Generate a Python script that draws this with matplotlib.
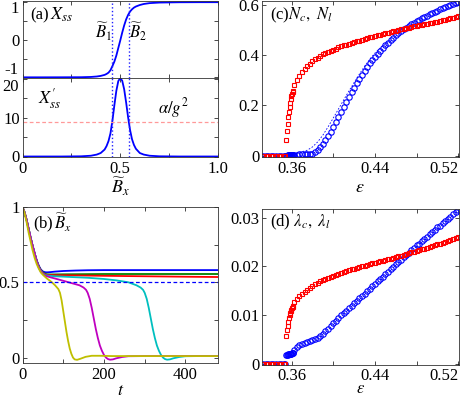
import numpy as np
import matplotlib
matplotlib.use("Agg")
import matplotlib.pyplot as plt

plt.rcParams["font.family"] = ["Liberation Serif", "DejaVu Serif"]
plt.rcParams["mathtext.fontset"] = "stix"
plt.rcParams["font.size"] = 12
plt.rcParams["axes.linewidth"] = 0.6
plt.rcParams["xtick.direction"] = "in"
plt.rcParams["ytick.direction"] = "in"
plt.rcParams["xtick.top"] = True
plt.rcParams["ytick.right"] = True
plt.rcParams["xtick.major.size"] = 3
plt.rcParams["ytick.major.size"] = 3
plt.rcParams["xtick.major.width"] = 0.5
plt.rcParams["ytick.major.width"] = 0.5

# ---- (a) steady state X_ss and its derivative ----
b_grid = [0.0, 0.1, 0.2, 0.3, 0.35, 0.38, 0.40, 0.42, 0.43, 0.44,
          0.45, 0.46, 0.47, 0.48, 0.49, 0.50, 0.51, 0.52, 0.53, 0.54,
          0.55, 0.56, 0.57, 0.58, 0.60, 0.62, 0.65, 0.70, 0.80, 0.90, 1.0]
x_ss = [-1.0, -1.0, -0.999, -0.997, -0.99, -0.978, -0.962, -0.935, -0.91, -0.875,
        -0.81, -0.70, -0.58, -0.42, -0.22, -0.02, 0.19, 0.38, 0.54, 0.66,
        0.75, 0.81, 0.855, 0.885, 0.925, 0.952, 0.975, 0.99, 0.998, 1.0, 1.0]
dx_ss = [0, 0, 0.0, 0.05, 0.2, 0.5, 0.9, 1.8, 2.7, 4.0,
         6.0, 9.3, 13.3, 17.0, 19.5, 20.3, 19.6, 17.4, 14.0, 10.2,
         6.9, 4.5, 3.0, 2.0, 0.9, 0.5, 0.2, 0.05, 0, 0, 0]
b1, b2 = 0.459, 0.543
alpha_g2 = 9.0

# ---- (b) time evolution of B_x ----
t_blue = [0, 5, 10, 15, 20, 25, 30, 35, 40, 45, 50, 55, 60, 70, 80, 100, 130, 160, 200, 300, 400, 480]
b_blue = [1.0, 0.965, 0.915, 0.855, 0.795, 0.74, 0.69, 0.645, 0.61, 0.585, 0.572, 0.567, 0.566,
          0.568, 0.571, 0.575, 0.578, 0.58, 0.581, 0.581, 0.581, 0.581]
t_green = [0, 5, 10, 15, 20, 25, 30, 35, 40, 45, 50, 55, 60, 70, 100, 150, 200, 300, 480]
b_green = [1.0, 0.965, 0.915, 0.855, 0.795, 0.74, 0.69, 0.642, 0.605, 0.58, 0.565, 0.557, 0.553,
           0.552, 0.553, 0.554, 0.555, 0.555, 0.555]
t_red = [0, 5, 10, 15, 20, 25, 30, 35, 40, 45, 50, 55, 60, 80, 120, 200, 300, 400, 480]
b_red = [1.0, 0.965, 0.915, 0.855, 0.795, 0.74, 0.69, 0.64, 0.603, 0.578, 0.562, 0.553, 0.549,
         0.547, 0.546, 0.543, 0.540, 0.537, 0.535]
t_cyan = [0, 5, 10, 15, 20, 25, 30, 35, 40, 45, 50, 55, 60, 80, 120, 160, 200, 230, 260, 280,
          290, 296, 300, 305, 310, 315, 320, 325, 330, 335, 340, 345, 350, 355, 362, 370, 385, 400, 430, 480]
b_cyan = [1.0, 0.965, 0.915, 0.855, 0.795, 0.74, 0.69, 0.638, 0.60, 0.575, 0.558, 0.549, 0.545,
          0.54, 0.535, 0.53, 0.522, 0.513, 0.50, 0.48, 0.465, 0.45, 0.43, 0.39, 0.33, 0.26, 0.19,
          0.13, 0.08, 0.045, 0.018, 0.0, -0.01, -0.014, -0.012, -0.005, 0.004, 0.009, 0.01, 0.01]
t_mag = [0, 5, 10, 15, 20, 25, 30, 35, 40, 45, 50, 55, 60, 70, 80, 100, 120, 140, 150, 156,
         160, 165, 170, 175, 180, 185, 190, 195, 200, 205, 210, 215, 222, 230, 245, 260, 300, 480]
b_mag = [1.0, 0.965, 0.915, 0.855, 0.795, 0.74, 0.69, 0.636, 0.598, 0.572, 0.555, 0.545, 0.54,
         0.532, 0.525, 0.51, 0.495, 0.48, 0.465, 0.45, 0.43, 0.39, 0.33, 0.26, 0.19, 0.13, 0.08,
         0.045, 0.018, 0.0, -0.01, -0.014, -0.012, -0.005, 0.004, 0.009, 0.01, 0.01]
t_yel = [0, 5, 10, 15, 20, 25, 30, 35, 40, 45, 50, 60, 70, 80, 88, 92, 96, 100, 104, 108,
         112, 116, 120, 124, 128, 134, 142, 155, 170, 190, 220, 480]
b_yel = [1.0, 0.96, 0.90, 0.83, 0.77, 0.71, 0.66, 0.62, 0.59, 0.565, 0.55, 0.525, 0.505, 0.48,
         0.455, 0.43, 0.38, 0.31, 0.24, 0.17, 0.11, 0.06, 0.025, 0.0, -0.012, -0.015, -0.008,
         0.005, 0.012, 0.012, 0.01, 0.01]

# ---- (c), (d) sweep over epsilon ----
eps_zero = [0.3325, 0.335, 0.3375, 0.34, 0.3425, 0.345, 0.3475, 0.35, 0.3525, 0.354]
eps_jump = [0.3550, 0.3556, 0.3562, 0.3568, 0.3574, 0.3580, 0.3586, 0.3592, 0.3598, 0.3604, 0.3610, 0.3616]
eps_main = [0.3625, 0.365, 0.3675, 0.37, 0.3725, 0.375, 0.3775, 0.38, 0.3825, 0.385,
            0.3875, 0.39, 0.3925, 0.395, 0.3975, 0.40, 0.4025, 0.405, 0.4075, 0.41,
            0.4125, 0.415, 0.4175, 0.42, 0.4225, 0.425, 0.4275, 0.43, 0.4325, 0.435,
            0.4375, 0.44, 0.4425, 0.445, 0.4475, 0.45, 0.4525, 0.455, 0.4575, 0.46,
            0.4625, 0.465, 0.4675, 0.47, 0.4725, 0.475, 0.4775, 0.48, 0.4825, 0.485,
            0.4875, 0.49, 0.4925, 0.495, 0.4975, 0.50, 0.5025, 0.505, 0.5075, 0.51,
            0.5125, 0.515, 0.5175, 0.52]
zeros_lo = [0, 0, 0, 0, 0, 0, 0, 0, 0, 0]

n_red_jump = [0.063, 0.100, 0.127, 0.153, 0.173, 0.193, 0.210, 0.225, 0.237, 0.246, 0.253, 0.258]
n_red_main = [0.283, 0.300, 0.317, 0.332, 0.345, 0.356, 0.366, 0.375, 0.383, 0.390,
              0.397, 0.403, 0.408, 0.413, 0.417, 0.422, 0.426, 0.431, 0.435, 0.439,
              0.442, 0.446, 0.449, 0.452, 0.455, 0.458, 0.461, 0.464, 0.467, 0.470,
              0.473, 0.475, 0.478, 0.481, 0.484, 0.486, 0.489, 0.492, 0.494, 0.497,
              0.499, 0.502, 0.504, 0.507, 0.509, 0.511, 0.514, 0.516, 0.518, 0.520,
              0.522, 0.524, 0.527, 0.529, 0.531, 0.533, 0.535, 0.538, 0.540, 0.543,
              0.546, 0.549, 0.552, 0.555]
n_blue_jump = [0.000, 0.000, 0.001, 0.001, 0.001, 0.001, 0.002, 0.002, 0.002, 0.002, 0.002, 0.003]
n_blue_main = [0.003, 0.004, 0.005, 0.005, 0.005, 0.005, 0.006, 0.008, 0.014, 0.022,
               0.033, 0.046, 0.061, 0.078, 0.096, 0.115, 0.135, 0.155, 0.175, 0.195,
               0.215, 0.234, 0.253, 0.271, 0.289, 0.306, 0.322, 0.338, 0.353, 0.367,
               0.381, 0.394, 0.406, 0.418, 0.429, 0.440, 0.450, 0.460, 0.469, 0.478,
               0.487, 0.495, 0.502, 0.509, 0.516, 0.523, 0.529, 0.535, 0.541, 0.546,
               0.552, 0.557, 0.562, 0.567, 0.572, 0.577, 0.582, 0.587, 0.592, 0.596,
               0.601, 0.605, 0.609, 0.613]
eps_dash = [0.355, 0.36, 0.365, 0.37, 0.375, 0.38, 0.385, 0.39, 0.395, 0.40, 0.405,
            0.41, 0.415, 0.42, 0.425, 0.43, 0.435, 0.44, 0.445, 0.45, 0.455]
n_dash = [0.0, 0.004, 0.010, 0.016, 0.022, 0.035, 0.055, 0.082, 0.115, 0.150, 0.186,
          0.222, 0.257, 0.291, 0.324, 0.355, 0.383, 0.408, 0.428, 0.445, 0.460]

lam_red_jump = [0.0056, 0.0068, 0.0078, 0.0086, 0.0093, 0.0099, 0.0104, 0.0108, 0.0111, 0.0114, 0.0116, 0.0118]
lam_red_main = [0.0126, 0.0133, 0.0138, 0.0143, 0.0148, 0.0152, 0.0156, 0.0160, 0.0163, 0.0166,
                0.0169, 0.0172, 0.0174, 0.0177, 0.0179, 0.0181, 0.0183, 0.0185, 0.0187, 0.0189,
                0.0190, 0.0192, 0.0194, 0.0195, 0.0197, 0.0198, 0.0200, 0.0201, 0.0203, 0.0204,
                0.0206, 0.0207, 0.0209, 0.0210, 0.0212, 0.0213, 0.0215, 0.0216, 0.0218, 0.0219,
                0.0221, 0.0222, 0.0224, 0.0226, 0.0227, 0.0229, 0.0230, 0.0232, 0.0233, 0.0235,
                0.0236, 0.0238, 0.0240, 0.0241, 0.0243, 0.0245, 0.0247, 0.0249, 0.0251, 0.0253,
                0.0255, 0.0257, 0.0259, 0.0261]
lam_blue_jump = [0.0017, 0.0018, 0.0018, 0.0019, 0.0019, 0.0019, 0.0020, 0.0020, 0.0020, 0.0021, 0.0021, 0.0022]
lam_blue_main = [0.0028, 0.0034, 0.0038, 0.0041, 0.0043, 0.0045, 0.0046, 0.0048, 0.0050, 0.0053,
                 0.0057, 0.0061, 0.0066, 0.0071, 0.0077, 0.0083, 0.0088, 0.0094, 0.0099, 0.0104,
                 0.0109, 0.0114, 0.0119, 0.0124, 0.0129, 0.0134, 0.0139, 0.0144, 0.0149, 0.0154,
                 0.0159, 0.0164, 0.0169, 0.0174, 0.0179, 0.0184, 0.0189, 0.0194, 0.0199, 0.0204,
                 0.0209, 0.0214, 0.0219, 0.0224, 0.0228, 0.0233, 0.0238, 0.0243, 0.0247, 0.0252,
                 0.0257, 0.0261, 0.0266, 0.0271, 0.0275, 0.0280, 0.0284, 0.0289, 0.0293, 0.0298,
                 0.0302, 0.0307, 0.0311, 0.0315]

eps = eps_zero + eps_jump + eps_main
n_red = zeros_lo + n_red_jump + n_red_main
n_blue = zeros_lo + n_blue_jump + n_blue_main
lam_red = zeros_lo + lam_red_jump + lam_red_main
lam_blue = zeros_lo + lam_blue_jump + lam_blue_main

W, H = 463, 398
fig = plt.figure(figsize=(W / 100, H / 100), dpi=100)


def box(l, t, r, b):
    # pixel box -> figure fraction
    return [l / W, 1 - b / H, (r - l) / W, (b - t) / H]


ax_a1 = fig.add_axes(box(22.5, 0.5, 218, 78))
ax_a2 = fig.add_axes(box(22.5, 78, 218, 156.5))
ax_b = fig.add_axes(box(22.5, 207, 218, 363))
ax_c = fig.add_axes(box(262, 1, 458.5, 157))
ax_d = fig.add_axes(box(262, 209, 458.5, 365))

# (a) top
ax_a1.plot(b_grid, x_ss, color="#0000ff", lw=1.3)
for bv in (b1, b2):
    ax_a1.axvline(bv, color="#2020ff", ls=":", lw=1.0)
ax_a1.set_xlim(0, 1)
ax_a1.set_ylim(-1.018, 1.045)
ax_a1.set_xticks([0, 0.25, 0.5, 0.75, 1.0])
ax_a1.set_xticklabels([])
ax_a1.set_yticks([-1, -0.5, 0, 0.5, 1])
ax_a1.set_yticklabels(["", "", "0", "", ""])
ytr = ax_a1.get_yaxis_transform()
ax_a1.text(-0.02, -0.8, "-1", transform=ytr, ha="right", va="center")
ax_a1.text(-0.02, 0.82, "1", transform=ytr, ha="right", va="center")
ax_a1.text(0.038, 0.81, "(a)", transform=ax_a1.transAxes, va="center")
ax_a1.text(0.14, 0.81, "$X_{ss}$", transform=ax_a1.transAxes, va="center", fontsize=13)
ax_a1.text(0.413, 0.59, r"$\widetilde{B}_1$", transform=ax_a1.transAxes, ha="center", va="center")
ax_a1.text(0.592, 0.59, r"$\widetilde{B}_2$", transform=ax_a1.transAxes, ha="center", va="center")

# (a) bottom
ax_a2.plot(b_grid, dx_ss, color="#0000ff", lw=1.3)
ax_a2.axhline(alpha_g2, color="#ff9999", ls="--", lw=0.9, dashes=(3, 2))
for bv in (b1, b2):
    ax_a2.axvline(bv, color="#2020ff", ls=":", lw=1.0)
ax_a2.set_xlim(0, 1)
ax_a2.set_ylim(0, 20.3)
ax_a2.set_xticks([0, 0.25, 0.5, 0.75, 1.0])
ax_a2.set_xticklabels(["0", "", "0.5", "", "1.0"])
ax_a2.set_yticks([0, 5, 10, 15, 20])
ax_a2.set_yticklabels(["0", "", "10", "", ""])
ax_a2.text(-0.02, 17.9, "20", transform=ax_a2.get_yaxis_transform(), ha="right", va="center")
ax_a2.text(0.14, 0.74, r"$X^{\prime}_{ss}$", transform=ax_a2.transAxes, ha="center", va="center",
           fontsize=13)
ax_a2.text(0.773, 0.615, r"$\alpha/g^2$", transform=ax_a2.transAxes, ha="center", va="center")
ax_a2.set_xlabel(r"$\widetilde{B}_x$", labelpad=-1, fontsize=13)

# (b)
for tt, bb, col in [(t_blue, b_blue, "#0000ff"), (t_green, b_green, "#008000"),
                    (t_red, b_red, "#ff0000"), (t_cyan, b_cyan, "#00bfbf"),
                    (t_mag, b_mag, "#bf00bf"), (t_yel, b_yel, "#bfbf00")]:
    ax_b.plot(tt, bb, color=col, lw=1.3)
ax_b.axhline(0.5, color="#0000ff", ls="--", lw=0.9, dashes=(3, 2))
ax_b.set_xlim(0, 480)
ax_b.set_ylim(-0.036, 1.0)
ax_b.set_xticks([0, 100, 200, 300, 400])
ax_b.set_xticklabels(["0", "", "200", "", "400"])
ax_b.set_yticks([0, 0.25, 0.5, 0.75, 1.0])
ax_b.set_yticklabels(["0", "", "0.5", "", "1"])
ax_b.text(0.054, 0.9, r"(b)$\,\widetilde{B}_x$", transform=ax_b.transAxes, va="center")
ax_b.set_xlabel("$t$", labelpad=-1, fontsize=13)

# (c)
ax_c.plot(eps_dash, n_dash, color="#0000ff", ls="--", lw=0.6, dashes=(2, 2))
ax_c.plot(eps, n_blue, "o", ms=3.9, mfc="none", mec="#0000ff", mew=0.8)
ax_c.plot(eps, n_red, "s", ms=3.3, mfc="none", mec="#ff0000", mew=0.8)
ax_c.set_xlim(0.3315, 0.5203)
ax_c.set_ylim(-0.005, 0.615)
ax_c.set_xticks([0.36, 0.40, 0.44, 0.48, 0.52])
ax_c.set_xticklabels(["0.36", "", "0.44", "", "0.52"])
ax_c.set_yticks([0, 0.2, 0.4, 0.6])
ax_c.set_yticklabels(["0", "0.2", "0.4", "0.6"])
ax_c.text(0.04, 0.91, r"(c)$N_c,\ N_l$", transform=ax_c.transAxes, va="center")
ax_c.set_xlabel(r"$\epsilon$", labelpad=1, fontsize=13)

# (d)
ax_d.plot(eps, lam_blue, "o", ms=3.9, mfc="none", mec="#0000ff", mew=0.8)
ax_d.plot(eps, lam_red, "s", ms=3.3, mfc="none", mec="#ff0000", mew=0.8)
ax_d.set_xlim(0.3315, 0.5203)
ax_d.set_ylim(-0.0003, 0.0318)
ax_d.set_xticks([0.36, 0.40, 0.44, 0.48, 0.52])
ax_d.set_xticklabels(["0.36", "", "0.44", "", "0.52"])
ax_d.set_yticks([0, 0.01, 0.02, 0.03])
ax_d.set_yticklabels(["0", "0.01", "0.02", "0.03"])
ax_d.text(0.04, 0.917, r"(d) $\lambda_c,\ \lambda_l$", transform=ax_d.transAxes, va="center")

for ax in (ax_a1, ax_a2, ax_b, ax_c, ax_d):
    ax.tick_params(pad=3, labelsize=12)
    ax.tick_params(axis="y", pad=2)
    for s in ax.spines.values():
        s.set_color("#333333")
ax_d.tick_params(axis="x", pad=2)
ax_d.set_xlabel(r"$\epsilon$", labelpad=-2, fontsize=12)

# last epsilon label sits left of its tick so it stays inside the figure
for ax in (ax_c, ax_d):
    ax.get_xticklabels()[-1].set_horizontalalignment("right")

fig.savefig("out.png", dpi=100)
